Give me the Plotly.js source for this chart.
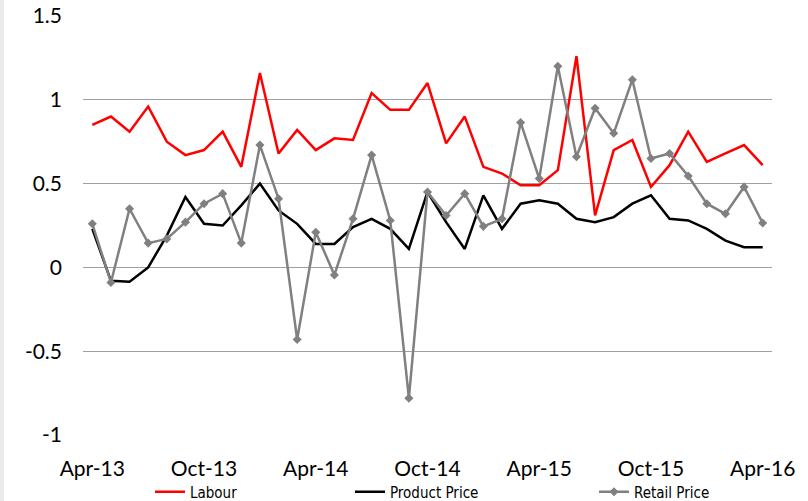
<!DOCTYPE html>
<html>
<head>
<meta charset="utf-8">
<script src="https://cdn.plot.ly/plotly-3.0.1.min.js"></script>
<style>
html,body{margin:0;padding:0;background:#ffffff;}
#wrap{position:relative;width:808px;height:501px;background:#ffffff;}
#strip{position:absolute;left:0;top:0;width:4px;height:501px;background:#ebebeb;}
#chart{position:absolute;left:0;top:0;width:808px;height:501px;}
</style>
</head>
<body>
<div id="wrap"><div id="chart"></div><div id="strip"></div></div>
<script>
const months = ["Apr-13","May-13","Jun-13","Jul-13","Aug-13","Sep-13","Oct-13","Nov-13","Dec-13","Jan-14","Feb-14","Mar-14",
  "Apr-14","May-14","Jun-14","Jul-14","Aug-14","Sep-14","Oct-14","Nov-14","Dec-14","Jan-15","Feb-15","Mar-15",
  "Apr-15","May-15","Jun-15","Jul-15","Aug-15","Sep-15","Oct-15","Nov-15","Dec-15","Jan-16","Feb-16","Mar-16","Apr-16"];
const labour = [0.85,0.90,0.81,0.96,0.75,0.67,0.70,0.81,0.60,1.16,0.68,0.82,0.70,0.77,0.76,1.04,0.94,0.94,1.10,0.74,0.90,0.60,0.56,0.49,0.49,0.58,1.26,0.31,0.70,0.76,0.48,0.61,0.81,0.63,0.68,0.73,0.61];
const productPrice = [0.23,-0.08,-0.085,0.0,0.19,0.42,0.26,0.25,0.37,0.50,0.34,0.26,0.14,0.14,0.24,0.29,0.23,0.11,0.45,0.27,0.11,0.43,0.23,0.38,0.40,0.38,0.29,0.27,0.30,0.38,0.43,0.29,0.28,0.23,0.16,0.12,0.12];
const retailPrice = [0.26,-0.09,0.35,0.145,0.17,0.27,0.38,0.44,0.145,0.73,0.41,-0.43,0.21,-0.045,0.29,0.67,0.28,-0.78,0.45,0.31,0.44,0.245,0.29,0.865,0.53,1.20,0.66,0.95,0.80,1.12,0.65,0.68,0.545,0.38,0.32,0.48,0.265];
const yTickVals = [-1,-0.5,0,0.5,1,1.5];
const yTickText = ["-1","-0.5","0","0.5","1","1.5"];
const seriesNames = ["Labour","Product Price","Retail Price"];

const labelMonths = months.filter((m,i)=>i%6===0);
const boundaryTicks = months.map((m,i)=>i-0.5).filter((v,i)=>i%6===0);

const traces = [
  {x:months,y:labour,name:seriesNames[0],type:'scatter',mode:'lines',
   line:{color:'#ff0000',width:2.5},legend:'legend'},
  {x:months,y:productPrice,name:seriesNames[1],type:'scatter',mode:'lines',
   line:{color:'#000000',width:2.5},legend:'legend2'},
  {x:months,y:retailPrice,name:seriesNames[2],type:'scatter',mode:'lines+markers',
   line:{color:'#808080',width:2.5},marker:{symbol:'diamond',size:7,color:'#808080'},legend:'legend3'}
];

const legFont = {family:'"Liberation Sans Narrow", "DejaVu Sans Condensed", "Liberation Sans", Arial, sans-serif',size:15,color:'#000000'};
function leg(px){
  return {orientation:'h',xref:'container',yref:'container',x:px/808,xanchor:'left',
          y:1-492/501,yanchor:'middle',
          font:legFont,bgcolor:'rgba(0,0,0,0)',itemwidth:30,tracegroupgap:0};
}

const layout = {
  width:808,height:501,
  margin:{l:83,r:36,t:16,b:66,pad:0,autoexpand:false},
  paper_bgcolor:'#ffffff',plot_bgcolor:'#ffffff',
  font:{family:'Lato, "Open Sans", sans-serif',color:'#000000'},
  showlegend:true,
  xaxis:{type:'category',categoryorder:'array',categoryarray:months,range:[-0.5,36.5],
    tickmode:'array',tickvals:labelMonths,ticktext:labelMonths,ticks:'',
    showgrid:false,zeroline:false,showline:false,automargin:false,
    tickfont:{family:'Lato, "Open Sans", sans-serif',size:21,color:'#000000'},
    ticklabelstandoff:19,fixedrange:true},
  xaxis2:{overlaying:'x',anchor:'free',position:0.4,type:'linear',range:[-0.5,36.5],
    tickmode:'array',tickvals:boundaryTicks,showticklabels:false,automargin:false,
    ticks:'inside',ticklen:6,tickwidth:1.5,tickcolor:'#000000',
    showline:true,linecolor:'#000000',linewidth:1.5,showgrid:false,zeroline:false,fixedrange:true},
  yaxis:{range:[-1,1.5],tickmode:'array',tickvals:yTickVals,ticktext:yTickText,automargin:false,
    showgrid:true,gridcolor:'#a0a0a0',gridwidth:1,zeroline:false,showline:false,ticks:'',
    tickfont:{family:'Lato, "Open Sans", sans-serif',size:21,color:'#000000'},
    ticklabelstandoff:20,fixedrange:true},
  legend:leg(150),
  legend2:leg(350),
  legend3:leg(594)
};

Plotly.newPlot('chart',traces,layout,{displayModeBar:false,staticPlot:true});
</script>
</body>
</html>
